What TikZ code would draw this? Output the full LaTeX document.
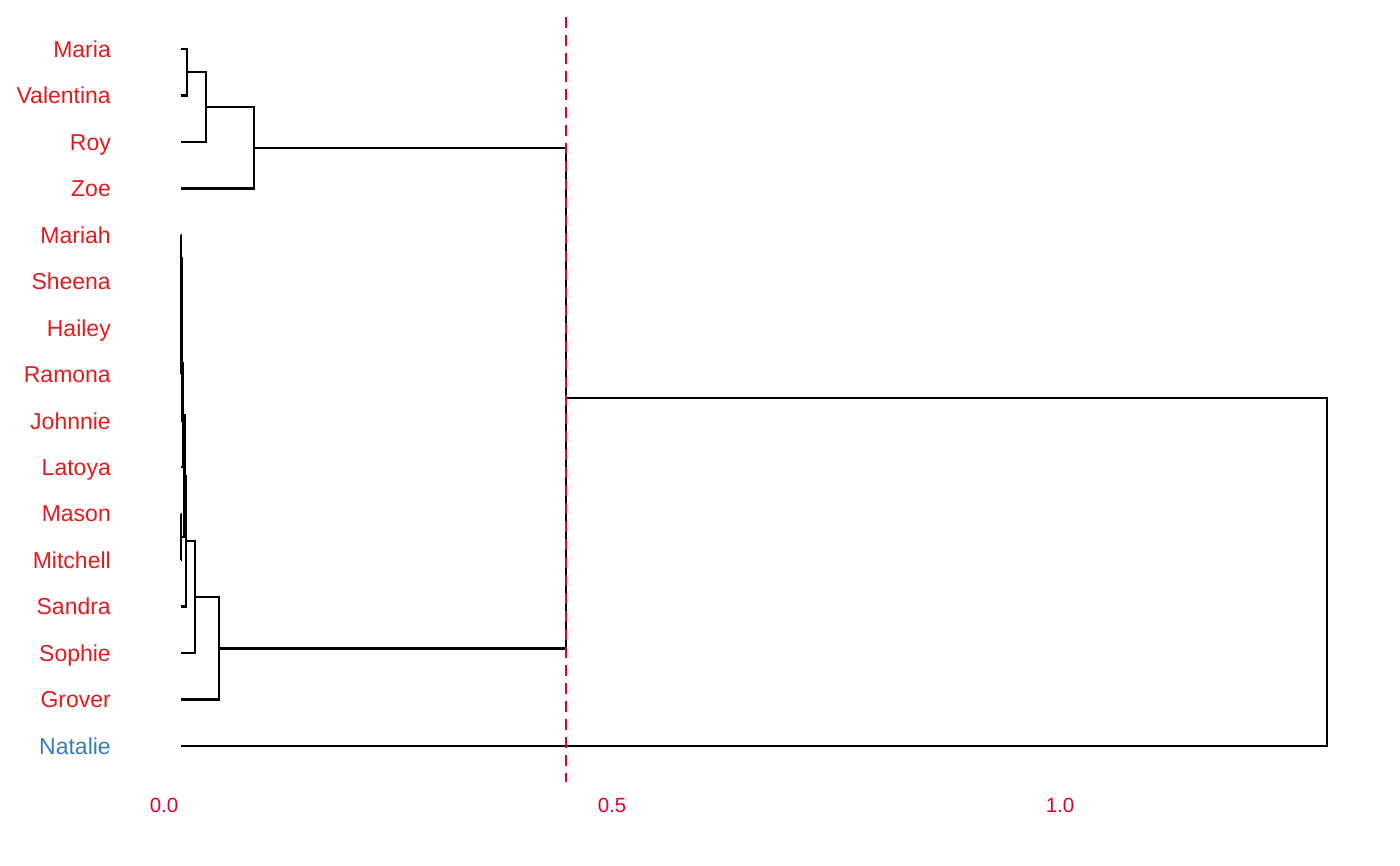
\documentclass[tikz,border=0pt]{standalone}
\usepackage{fontspec}
\setmainfont{Liberation Sans}
\definecolor{leafred}{HTML}{E41A1C}
\definecolor{leafblue}{HTML}{377EB8}
\definecolor{cutred}{HTML}{E3002B}
\begin{document}
\begin{tikzpicture}[x=1pt,y=-1pt,
  branch/.style={draw=black,line width=2.3pt,line join=miter},
  leaflabel/.style={anchor=base east,inner sep=0pt,text=leafred,font=\fontsize{23}{27}\selectfont},
  axislabel/.style={anchor=center,inner sep=0pt,text=cutred,font=\fontsize{20.5}{24}\selectfont},
  cutline/.style={draw=cutred,line width=2.3pt,dash pattern=on 11pt off 7pt}]
\useasboundingbox (0,0) rectangle (1400,865);
% leaves
\foreach \nm/\yy in {Maria/49.0,Valentina/95.5,Roy/141.9,Zoe/188.4,Mariah/234.9,Sheena/281.4,Hailey/327.8,Ramona/374.3,Johnnie/420.8,Latoya/467.2,Mason/513.7,Mitchell/560.2,Sandra/606.6,Sophie/653.1,Grover/699.6,Natalie/746.0}{
  \coordinate (\nm) at (181,\yy);
}
\foreach \nm/\yy in {Maria/49.0,Valentina/95.5,Roy/141.9,Zoe/188.4,Mariah/234.9,Sheena/281.4,Hailey/327.8,Ramona/374.3,Johnnie/420.8,Latoya/467.2,Mason/513.7,Mitchell/560.2,Sandra/606.6,Sophie/653.1,Grover/699.6}{
  \node[leaflabel] (lab\nm) at (111,\yy+8.2) {\nm};
}
\node[leaflabel,text=leafblue] (labNatalie) at (111,746.0+8.2) {Natalie};
% merges
\coordinate (m1) at (187,72.25);
\coordinate (m2) at (206,107.1);
\coordinate (m3) at (254,147.75);
\coordinate (b1) at (181.3,258.15);
\coordinate (b2) at (181.3,351.05);
\coordinate (b3) at (181.6,304.6);
\coordinate (b4) at (182.0,362.7);
\coordinate (b5) at (182.8,414.95);
\coordinate (b6) at (181.3,536.95);
\coordinate (b7) at (184.5,475.95);
\coordinate (b8) at (186,541.3);
\coordinate (b9) at (195,597.2);
\coordinate (b10) at (219,648.4);
\coordinate (r1) at (566,398.1);
\coordinate (root) at (1327,572.05);
% branches
\foreach \a/\b/\m in {Maria/Valentina/m1,m1/Roy/m2,m2/Zoe/m3,Mariah/Sheena/b1,Hailey/Ramona/b2,b1/b2/b3,b3/Johnnie/b4,b4/Latoya/b5,Mason/Mitchell/b6,b5/b6/b7,b7/Sandra/b8,b8/Sophie/b9,b9/Grover/b10,m3/b10/r1}{
  \draw[branch] (\a) -| (\m);
  \draw[branch] (\b) -| (\m);
}
\draw[branch] (r1) -| (root);
\draw[branch] (Natalie) -| (root);
% cut line
\coordinate (cuttop) at (566,17);
\coordinate (cutbot) at (566,782);
\draw[cutline] (cuttop) -- (cutbot);
% axis
\node[axislabel] (t0) at (164,805) {0.0};
\node[axislabel] (t1) at (612,805) {0.5};
\node[axislabel] (t2) at (1060,805) {1.0};
\end{tikzpicture}
\end{document}
